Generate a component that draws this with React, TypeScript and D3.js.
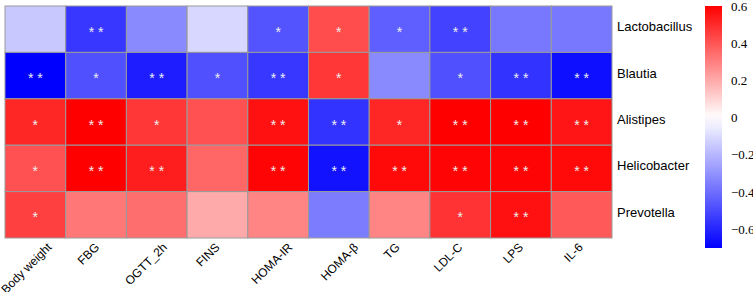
import React from "react";
import * as d3 from "d3";

const columns = ["Body weight", "FBG", "OGTT_2h", "FINS", "HOMA-IR", "HOMA-β", "TG", "LDL-C", "LPS", "IL-6"];
const rows = ["Lactobacillus", "Blautia", "Alistipes", "Helicobacter", "Prevotella"];

const lactobacillus = [-0.15, -0.55, -0.32, -0.11, -0.47, 0.42, -0.44, -0.52, -0.37, -0.37];
const blautia = [-0.7, -0.48, -0.62, -0.48, -0.55, 0.47, -0.32, -0.48, -0.56, -0.66];
const alistipes = [0.51, 0.6, 0.47, 0.41, 0.56, -0.56, 0.51, 0.6, 0.6, 0.55];
const helicobacter = [0.41, 0.6, 0.53, 0.36, 0.59, -0.65, 0.58, 0.59, 0.59, 0.58];
const prevotella = [0.45, 0.32, 0.34, 0.2, 0.29, -0.36, 0.29, 0.48, 0.56, 0.39];

const sigLactobacillus = ["", "**", "", "", "*", "*", "*", "**", "", ""];
const sigBlautia = ["**", "*", "**", "*", "**", "*", "", "*", "**", "**"];
const sigAlistipes = ["*", "**", "*", "", "**", "**", "*", "**", "**", "**"];
const sigHelicobacter = ["*", "**", "**", "", "**", "**", "**", "**", "**", "**"];
const sigPrevotella = ["*", "", "", "", "", "", "", "*", "**", ""];

const legendTicks = [0.6, 0.4, 0.2, 0, -0.2, -0.4, -0.6];

const values = [lactobacillus, blautia, alistipes, helicobacter, prevotella];
const sigs = [sigLactobacillus, sigBlautia, sigAlistipes, sigHelicobacter, sigPrevotella];

// layout tweak: horizontal shift of each rotated column label's end point
const colLabelShift = [17, 4, 11, 3, 15, 20, 1, 3, 3, 2];

export default function App() {
  const W = 753, H = 292;
  const gx0 = 5, gx1 = 612, gy0 = 6, gy1 = 238;
  const x = d3.scaleBand<string>().domain(columns).range([gx0, gx1]);
  const y = d3.scaleBand<string>().domain(rows).range([gy0, gy1]);
  const color = d3.scaleLinear<string>().domain([-0.7, 0, 0.6]).range(["#0000ff", "#ffffff", "#ff0000"]).clamp(true);
  const ly = d3.scaleLinear().domain([-0.7, 0.6]).range([248, 6]);
  const barX = 705, barW = 17;
  const stops = d3.range(0, 1.0001, 0.05).map((t) => {
    const v = 0.6 - t * 1.3;
    return { off: t, c: color(v) };
  });
  const sans = "'Liberation Sans', Arial, sans-serif";
  const serif = "'Liberation Serif', 'Times New Roman', Times, serif";
  return (
    <svg width={W} height={H} style={{ position: "absolute", left: 0, top: 0, background: "#fff" }}>
      <defs>
        <linearGradient id="lg" x1="0" y1="0" x2="0" y2="1">
          {stops.map((s, i) => (
            <stop key={i} offset={s.off} stopColor={s.c} />
          ))}
        </linearGradient>
      </defs>
      {rows.map((r, i) =>
        columns.map((c, j) => (
          <rect key={r + c} x={x(c)} y={y(r)} width={x.bandwidth()} height={y.bandwidth()}
            fill={color(values[i][j])} stroke="#9a9a9a" strokeWidth={1} />
        ))
      )}
      {rows.map((r, i) =>
        columns.map((c, j) =>
          sigs[i][j] ? (
            <text key={"s" + r + c} x={(x(c) as number) + x.bandwidth() / 2}
              y={(y(r) as number) + y.bandwidth() / 2 + 7.5} textAnchor="middle"
              style={{ fontFamily: sans, fontSize: 14 }} fill="#eeeeee">
              {sigs[i][j] === "**" ? "* *" : "*"}
            </text>
          ) : null
        )
      )}
      {rows.map((r) => (
        <text key={"r" + r} x={617} y={(y(r) as number) + y.bandwidth() / 2 + 2}
          style={{ fontFamily: sans, fontSize: 13 }} fill="#000">{r}</text>
      ))}
      {columns.map((c, j) => {
        const cx = (x(c) as number) + x.bandwidth() / 2 + colLabelShift[j];
        const cy = 248;
        return (
          <text key={"c" + c} x={cx} y={cy} textAnchor="end" transform={`rotate(-45 ${cx} ${cy})`}
            style={{ fontFamily: sans, fontSize: 12 }} fill="#000">{c}</text>
        );
      })}
      <rect x={barX} y={ly(0.6)} width={barW} height={ly(-0.7) - ly(0.6)} fill="url(#lg)" />
      {legendTicks.map((t) => (
        <text key={"t" + t} x={731} y={ly(t)} dominantBaseline="central"
          style={{ fontFamily: serif, fontSize: 13 }} fill="#000">{t === 0 ? "0" : d3.format(".1f")(t)}</text>
      ))}
    </svg>
  );
}
